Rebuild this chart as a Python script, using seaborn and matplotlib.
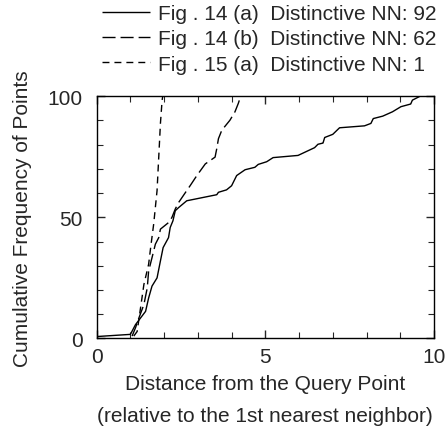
import numpy as np
import pandas as pd
import seaborn as sns
import matplotlib.pyplot as plt
from matplotlib.ticker import MultipleLocator

# Fig. 14 (a) - solid
dist_14a = [0.0, 1.0, 1.15, 1.45, 1.54, 1.64, 1.79, 1.89, 1.97, 2.13, 2.18, 2.26, 2.33, 2.43,
            2.67, 3.56, 3.61, 3.85, 4.0, 4.15, 4.4, 4.69, 4.79, 5.04, 5.23, 5.97, 6.46, 6.56,
            6.71, 6.76, 7.0, 7.2, 7.94, 8.13, 8.2, 8.48, 8.77, 9.02, 9.31, 9.36, 9.6]
freq_14a = [0.8, 1.7, 5.7, 11.2, 16.7, 21.6, 25.0, 32.0, 37.5, 41.6, 45.8, 48.5, 52.7, 54.0,
            56.8, 59.3, 60.3, 61.3, 63.0, 67.2, 69.6, 70.6, 71.8, 72.9, 74.6, 75.5, 78.7, 80.1,
            80.6, 82.9, 84.2, 86.9, 87.7, 88.7, 90.7, 91.7, 93.5, 95.6, 96.7, 98.3, 100.0]

# Fig. 14 (b) - long dash
dist_14b = [1.05, 1.15, 1.25, 1.4, 1.5, 1.54, 1.64, 1.74, 1.84, 1.89, 2.13, 2.23, 2.33, 2.43,
            2.67, 2.77, 2.97, 3.22, 3.51, 3.56, 3.61, 3.71, 3.95, 4.1, 4.2, 4.27]
freq_14b = [1.0, 4.4, 8.4, 14.0, 20.9, 27.8, 33.3, 38.9, 41.6, 45.1, 47.8, 49.9, 53.4, 56.1,
            61.0, 63.0, 67.2, 72.0, 74.8, 78.3, 82.4, 85.9, 90.0, 93.5, 97.0, 100.0]

# Fig. 15 (a) - short dash
dist_15a = [1.1, 1.2, 1.3, 1.4, 1.54, 1.6, 1.69, 1.79, 1.84, 1.89, 1.94, 1.96]
freq_15a = [1.0, 2.9, 12.6, 22.3, 30.6, 37.5, 47.2, 61.0, 74.8, 88.7, 98.3, 100.0]

labels = ["Fig . 14 (a)  Distinctive NN: 92",
          "Fig . 14 (b)  Distinctive NN: 62",
          "Fig . 15 (a)  Distinctive NN: 1"]

df = pd.concat([
    pd.DataFrame({"dist": dist_14a, "freq": freq_14a, "series": labels[0]}),
    pd.DataFrame({"dist": dist_14b, "freq": freq_14b, "series": labels[1]}),
    pd.DataFrame({"dist": dist_15a, "freq": freq_15a, "series": labels[2]}),
])

sns.set_style("ticks")
plt.rcParams['font.family'] = ['Liberation Sans', 'DejaVu Sans']

fig = plt.figure(figsize=(4.48, 4.31), dpi=100)
ax = fig.add_axes([0.2158, 0.2123, 0.7529, 0.5626])

sns.lineplot(data=df, x="dist", y="freq", style="series", color="black",
             dashes=[(1, 0), (9.4, 3.6), (5, 3.6)], estimator=None, sort=False,
             linewidth=1.0, ax=ax, legend=True)

ax.set_xlim(0, 10)
ax.set_ylim(0, 100)
ax.xaxis.set_major_locator(MultipleLocator(5))
ax.xaxis.set_minor_locator(MultipleLocator(1))
ax.yaxis.set_major_locator(MultipleLocator(50))
ax.yaxis.set_minor_locator(MultipleLocator(10))
ax.tick_params(which="both", direction="in", top=True, right=True, labelsize=15)
ax.tick_params(axis="x", which="major", length=6, width=1, pad=6)
ax.tick_params(axis="y", which="major", length=6, width=1, pad=10)
ax.tick_params(which="minor", length=4, width=0.8)
for s in ax.spines.values():
    s.set_linewidth(1.0)
    s.set_color("black")

ax.set_xlabel("Distance from the Query Point\n(relative to the 1st nearest neighbor)",
              fontsize=15, linespacing=1.85, labelpad=6)
ax.set_ylabel("Cumulative Frequency of Points", fontsize=15, labelpad=11)

h, l = ax.get_legend_handles_labels()
ax.get_legend().remove()
fig.legend(h, l, loc="upper right", bbox_to_anchor=(0.9754, 0.988), frameon=False,
           fontsize=15, handlelength=2.3, handletextpad=0.43, labelspacing=0.3,
           borderaxespad=0, borderpad=0)

fig.savefig("out.png", dpi=100)
